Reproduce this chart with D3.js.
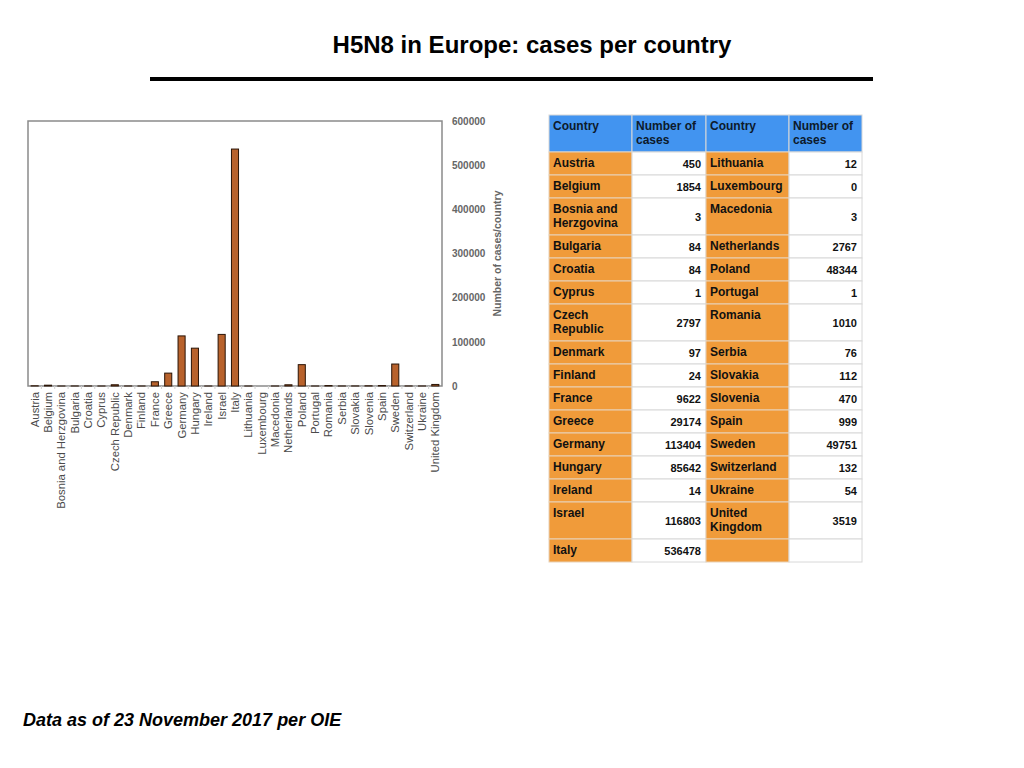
<!DOCTYPE html>
<html>
<head>
<meta charset="utf-8">
<script src="https://cdn.jsdelivr.net/npm/d3@7"></script>
<style>
  body { margin: 0; background: #fff; }
  svg { font-family: "Liberation Sans", Arial, sans-serif; }
</style>
</head>
<body>
<div id="chart"></div>
<script>
// data
const countries = ["Austria", "Belgium", "Bosnia and Herzgovina", "Bulgaria", "Croatia", "Cyprus",
  "Czech Republic", "Denmark", "Finland", "France", "Greece", "Germany", "Hungary", "Ireland",
  "Israel", "Italy", "Lithuania", "Luxembourg", "Macedonia", "Netherlands", "Poland", "Portugal",
  "Romania", "Serbia", "Slovakia", "Slovenia", "Spain", "Sweden", "Switzerland", "Ukraine",
  "United Kingdom"];
const cases = [450, 1854, 3, 84, 84, 1, 2797, 97, 24, 9622, 29174, 113404, 85642, 14,
  116803, 536478, 12, 0, 3, 2767, 48344, 1, 1010, 76, 112, 470, 999, 49751, 132, 54, 3519];
const yTicks = [0, 100000, 200000, 300000, 400000, 500000, 600000];
const tableHeaders = [["Country"], ["Number of", "cases"], ["Country"], ["Number of", "cases"]];
const leftCount = 16;

const W = 1024, H = 768;
const svg = d3.select("#chart").append("svg")
  .attr("width", W)
  .attr("height", H);

// title and rule
svg.append("text")
  .attr("x", 532)
  .attr("y", 53)
  .attr("text-anchor", "middle")
  .attr("font-size", 24)
  .attr("font-weight", "bold")
  .attr("fill", "#000")
  .text("H5N8 in Europe: cases per country");

svg.append("rect")
  .attr("x", 150).attr("y", 77)
  .attr("width", 723).attr("height", 4)
  .attr("fill", "#000");

// bar chart
const plot = { left: 28, right: 442, top: 121, bottom: 386 };

const x = d3.scaleBand()
  .domain(countries)
  .range([plot.left, plot.right])
  .paddingInner(0.47)
  .paddingOuter(0.235);

const y = d3.scaleLinear()
  .domain([0, 600000])
  .range([plot.bottom, plot.top]);

svg.append("rect")
  .attr("x", plot.left).attr("y", plot.top)
  .attr("width", plot.right - plot.left)
  .attr("height", plot.bottom - plot.top)
  .attr("fill", "none")
  .attr("stroke", "#8a8a8a")
  .attr("stroke-width", 1.5);

// little separators between categories
const step = (plot.right - plot.left) / countries.length;
svg.append("g").selectAll("line")
  .data(d3.range(1, countries.length))
  .join("line")
  .attr("x1", i => plot.left + i * step)
  .attr("x2", i => plot.left + i * step)
  .attr("y1", plot.bottom)
  .attr("y2", plot.bottom + 3)
  .attr("stroke", "#d0d0d0")
  .attr("stroke-width", 1);

svg.append("g").selectAll("rect")
  .data(countries.map((c, i) => ({ c, v: cases[i] })).filter(d => d.v > 0))
  .join("rect")
  .attr("x", d => x(d.c))
  .attr("width", x.bandwidth())
  .attr("y", d => y(d.v))
  .attr("height", d => y(0) - y(d.v))
  .attr("fill", "#b8622c")
  .attr("stroke", "#2a1406")
  .attr("stroke-width", 1);

// y axis on the right
const yAxis = svg.append("g")
  .attr("transform", `translate(${plot.right},0)`)
  .call(d3.axisRight(y).tickValues(yTicks).tickSize(0).tickPadding(10).tickFormat(d3.format("d")));
yAxis.select(".domain").remove();
yAxis.selectAll("text")
  .attr("font-size", 10)
  .attr("font-weight", "bold")
  .attr("fill", "#666")
  .attr("font-family", "Liberation Sans, Arial, sans-serif");

svg.append("text")
  .attr("transform", `translate(501,${(plot.top + plot.bottom) / 2}) rotate(-90)`)
  .attr("text-anchor", "middle")
  .attr("font-size", 10.5)
  .attr("font-weight", "bold")
  .attr("fill", "#666")
  .text("Number of cases/country");

// x axis labels
const xAxis = svg.append("g")
  .attr("transform", `translate(0,${plot.bottom})`)
  .call(d3.axisBottom(x).tickSize(0).tickPadding(0));
xAxis.select(".domain").remove();
xAxis.selectAll("text")
  .attr("transform", "rotate(-90)")
  .attr("x", -6)
  .attr("y", 0)
  .attr("dy", "0.35em")
  .attr("text-anchor", "end")
  .attr("font-size", 11.3)
  .attr("fill", "#4a4a4a")
  .attr("font-family", "Liberation Sans, Arial, sans-serif");

// table
const table = { left: 549, top: 115 };
const colW = [83, 74, 83, 73];
const colX = colW.map((w, i) => table.left + d3.sum(colW.slice(0, i)));
const lineH = 14, headH = 37, rowH1 = 23, rowH2 = 37;
const textStyle = s => s.attr("font-size", 12).attr("font-weight", "bold").attr("fill", "#111");

// wrap names to the width of the country column
const measure = svg.append("text").call(textStyle).attr("visibility", "hidden");
function wrap(name) {
  const words = name.split(" ");
  const lines = [];
  let cur = "";
  words.forEach(w => {
    const test = cur ? cur + " " + w : w;
    measure.text(test);
    if (cur && measure.node().getComputedTextLength() > colW[0] - 8) {
      lines.push(cur);
      cur = w;
    } else {
      cur = test;
    }
  });
  lines.push(cur);
  return lines;
}

const left = countries.slice(0, leftCount).map((c, i) => ({ lines: wrap(c), v: cases[i] }));
const right = countries.slice(leftCount).map((c, i) => ({ lines: wrap(c), v: cases[leftCount + i] }));
measure.remove();

const rows = left.map((l, i) => ({ l, r: right[i] || null }));
let yPos = table.top + headH;
rows.forEach(r => {
  const n = Math.max(r.l.lines.length, r.r ? r.r.lines.length : 1);
  r.y = yPos;
  r.h = n > 1 ? rowH2 : rowH1;
  yPos += r.h;
});

const tg = svg.append("g");

// header
tableHeaders.forEach((lines, i) => {
  tg.append("rect")
    .attr("x", colX[i]).attr("y", table.top)
    .attr("width", colW[i]).attr("height", headH)
    .attr("fill", "#4294f0")
    .attr("stroke", "#d8d8d8");
  const t = tg.append("text").call(textStyle).attr("fill", "#0d1a2b");
  lines.forEach((ln, k) => {
    t.append("tspan").attr("x", colX[i] + 4).attr("y", table.top + 15 + k * lineH).text(ln);
  });
});

rows.forEach(r => {
  [r.l, r.r].forEach((cell, side) => {
    const ci = side * 2;
    tg.append("rect")
      .attr("x", colX[ci]).attr("y", r.y)
      .attr("width", colW[ci]).attr("height", r.h)
      .attr("fill", "#f09b3a")
      .attr("stroke", "#e8d2b8");
    tg.append("rect")
      .attr("x", colX[ci + 1]).attr("y", r.y)
      .attr("width", colW[ci + 1]).attr("height", r.h)
      .attr("fill", "#fff")
      .attr("stroke", "#d8d8d8");
    if (!cell) return;
    const t = tg.append("text").call(textStyle);
    cell.lines.forEach((ln, k) => {
      t.append("tspan").attr("x", colX[ci] + 4).attr("y", r.y + 15 + k * lineH).text(ln);
    });
    tg.append("text").call(textStyle)
      .attr("font-size", 11)
      .attr("x", colX[ci + 1] + colW[ci + 1] - 5)
      .attr("y", r.y + r.h / 2 + 4)
      .attr("text-anchor", "end")
      .text(cell.v);
  });
});

// footnote
svg.append("text")
  .attr("x", 23)
  .attr("y", 726)
  .attr("font-size", 18)
  .attr("font-weight", "bold")
  .attr("font-style", "italic")
  .attr("fill", "#000")
  .text("Data as of 23 November 2017 per OIE");
</script>
</body>
</html>
